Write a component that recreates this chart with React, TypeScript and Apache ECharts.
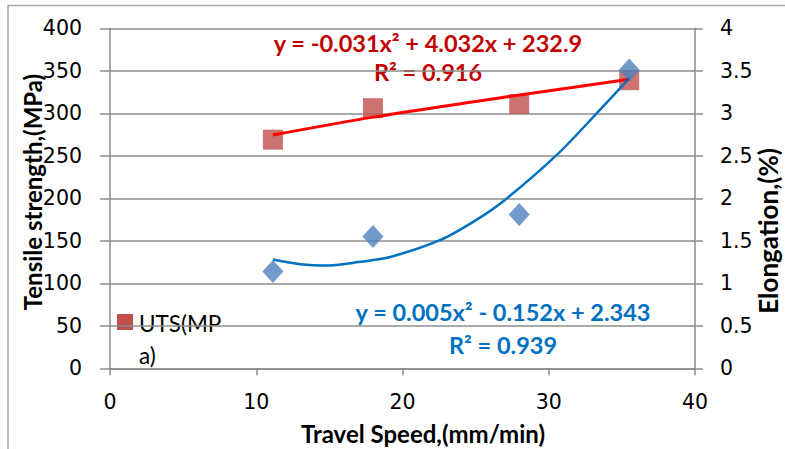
import React, { useEffect, useRef } from "react";
import * as echarts from "echarts";

const travelSpeed = [11.14, 17.98, 27.98, 35.5];
const utsValues = [269, 306, 311, 339];
const elongationValues = [1.14, 1.55, 1.81, 3.51];

const utsTrendX = [11.14, 18, 25, 28, 35.5];
const utsTrendY = [274.5, 295.5, 314, 321.5, 340];

const elongTrendX = [11.14, 13, 15, 17, 19.16, 22.6, 25, 27, 30.55, 33.5, 35.5];
const elongTrendY = [1.28, 1.225, 1.21, 1.25, 1.31, 1.51, 1.74, 1.98, 2.51, 3.04, 3.41];

const leftTicks = [0, 400, 50];
const rightTicks = [0, 4, 0.5];
const xTicks = [0, 40, 10];

const FONT = "Lato";
const TICK_FONT = "DejaVu Sans";

export default function App() {
  const ref = useRef<HTMLDivElement>(null);
  useEffect(() => {
    document.body.style.margin = "0";
    const chart = echarts.init(ref.current!, null, { renderer: "svg" });
    const gridColor = "#8c8c8c";
    const pair = (xs: number[], ys: number[]) => xs.map((x, i) => [x, ys[i]]);
    const tickLabel = { fontSize: 20.5, color: "#000", fontFamily: TICK_FONT };
    chart.setOption({
      animation: false,
      backgroundColor: "#ffffff",
      textStyle: { fontFamily: FONT },
      grid: { left: 110, right: 90, top: 28.3, bottom: 80.7 },
      xAxis: {
        type: "value",
        min: xTicks[0],
        max: xTicks[1],
        interval: xTicks[2],
        axisLine: { show: true, lineStyle: { color: gridColor, width: 1.5 } },
        axisTick: { show: true, inside: false, length: 7, lineStyle: { color: gridColor, width: 1.5 } },
        axisLabel: { ...tickLabel, margin: 23 },
        splitLine: { show: false },
      },
      yAxis: [
        {
          type: "value",
          min: leftTicks[0],
          max: leftTicks[1],
          interval: leftTicks[2],
          axisLine: { show: true, lineStyle: { color: gridColor, width: 1.5 } },
          axisTick: { show: true, inside: false, length: 10, lineStyle: { color: gridColor, width: 1.5 } },
          axisLabel: { ...tickLabel, margin: 28 },
          splitLine: { show: true, lineStyle: { color: gridColor, width: 1.5 } },
        },
        {
          type: "value",
          position: "right",
          min: rightTicks[0],
          max: rightTicks[1],
          interval: rightTicks[2],
          axisLine: { show: true, lineStyle: { color: gridColor, width: 1.5 } },
          axisTick: { show: true, inside: false, length: 8, lineStyle: { color: gridColor, width: 1.5 } },
          axisLabel: { ...tickLabel, margin: 25 },
          splitLine: { show: false },
        },
      ],
      series: [
        {
          name: "UTS(MPa)",
          type: "scatter",
          yAxisIndex: 0,
          symbol: "rect",
          symbolSize: 20,
          itemStyle: { color: "#c0504d" },
          data: pair(travelSpeed, utsValues),
          z: 2,
        },
        {
          name: "Elongation",
          type: "scatter",
          yAxisIndex: 1,
          symbol: "diamond",
          symbolSize: [21, 23],
          itemStyle: { color: "#4f81bd" },
          data: pair(travelSpeed, elongationValues),
          z: 3,
        },
        {
          name: "UTS trend",
          type: "line",
          yAxisIndex: 0,
          smooth: 0.3,
          symbol: "none",
          lineStyle: { color: "#ff0000", width: 3 },
          data: pair(utsTrendX, utsTrendY),
          z: 4,
        },
        {
          name: "Elongation trend",
          type: "line",
          yAxisIndex: 1,
          smooth: 0.3,
          symbol: "none",
          lineStyle: { color: "#0070c0", width: 2.5 },
          data: pair(elongTrendX, elongTrendY),
          z: 5,
        },
      ],
      graphic: [
        {
          type: "rect",
          shape: { x: 8, y: 5.5, width: 900, height: 600 },
          style: { fill: "none", stroke: "#a6a6a6", lineWidth: 1.5 },
          silent: true,
        },
        {
          type: "text",
          x: 32,
          y: 192,
          rotation: Math.PI / 2,
          style: {
            text: "Tensile strength,(MPa)",
            font: `bold 24px ${FONT}`,
            fill: "#000",
            align: "center",
            verticalAlign: "middle",
          },
        },
        {
          type: "text",
          x: 768,
          y: 231,
          rotation: Math.PI / 2,
          style: {
            text: "Elongation,(%)",
            font: `bold 26px ${FONT}`,
            fill: "#000",
            align: "center",
            verticalAlign: "middle",
          },
        },
        {
          type: "text",
          x: 423,
          y: 433,
          style: {
            text: "Travel Speed,(mm/min)",
            font: `bold 24px ${FONT}`,
            fill: "#000",
            align: "center",
            verticalAlign: "middle",
          },
        },
        {
          type: "text",
          x: 428,
          y: 43,
          style: {
            text: "y = -0.031x\u00b2 + 4.032x + 232.9",
            font: `bold 23.5px ${FONT}`,
            fill: "#c00000",
            align: "center",
            verticalAlign: "middle",
          },
        },
        {
          type: "text",
          x: 428,
          y: 72,
          style: {
            text: "R\u00b2 = 0.916",
            font: `bold 23.5px ${FONT}`,
            fill: "#c00000",
            align: "center",
            verticalAlign: "middle",
          },
        },
        {
          type: "text",
          x: 503,
          y: 312,
          style: {
            text: "y = 0.005x\u00b2 - 0.152x + 2.343",
            font: `bold 23.5px ${FONT}`,
            fill: "#0070c0",
            align: "center",
            verticalAlign: "middle",
          },
        },
        {
          type: "text",
          x: 503,
          y: 345,
          style: {
            text: "R\u00b2 = 0.939",
            font: `bold 23.5px ${FONT}`,
            fill: "#0070c0",
            align: "center",
            verticalAlign: "middle",
          },
        },
        {
          type: "rect",
          shape: { x: 117, y: 314, width: 16, height: 16 },
          style: { fill: "#c0504d" },
        },
        {
          type: "text",
          x: 139,
          y: 323,
          style: {
            text: "UTS(MP",
            font: `22.5px ${FONT}`,
            fill: "#000",
            align: "left",
            verticalAlign: "middle",
          },
        },
        {
          type: "text",
          x: 139,
          y: 355,
          style: {
            text: "a)",
            font: `22.5px ${FONT}`,
            fill: "#000",
            align: "left",
            verticalAlign: "middle",
          },
        },
      ],
    });
    return () => chart.dispose();
  }, []);
  return <div ref={ref} style={{ width: 785, height: 449 }} />;
}
